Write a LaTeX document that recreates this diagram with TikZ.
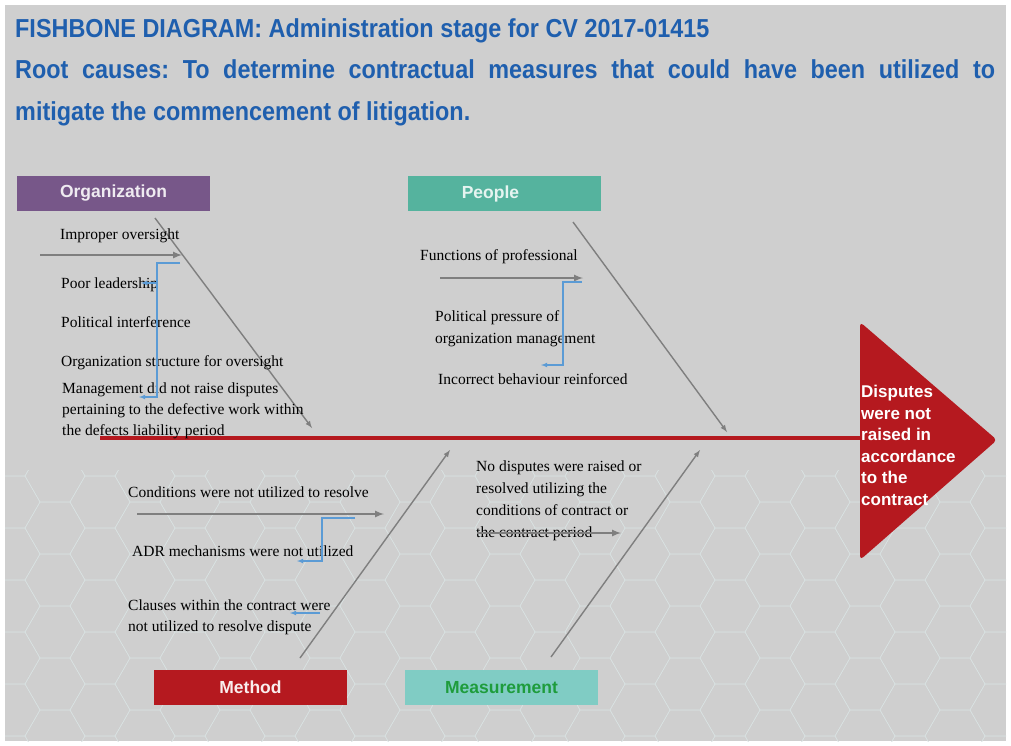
\documentclass[tikz,border=0pt]{standalone}
\usepackage{fontspec}
\setmainfont{Liberation Serif}
\newfontfamily\headfont[FakeStretch=0.9]{Liberation Sans}
\newfontfamily\labelfont{Liberation Sans}
\frenchspacing

\definecolor{bgGray}{HTML}{CFCFCF}
\definecolor{hexLine}{HTML}{D9E2E2}
\definecolor{titleBlue}{HTML}{1F5FAE}
\definecolor{orgPurple}{HTML}{775789}
\definecolor{peopleTeal}{HTML}{55B39E}
\definecolor{methodRed}{HTML}{B5191F}
\definecolor{measTeal}{HTML}{80CCC4}
\definecolor{measGreen}{HTML}{1E9C3C}
\definecolor{boneGray}{HTML}{7F7F7F}
\definecolor{linkBlue}{HTML}{5B9BD5}

\begin{document}
\begin{tikzpicture}[x=1pt,y=-1pt]
    \tikzset{>=latex}
    \tikzset{
      catbox/.style={minimum width=193pt,minimum height=35pt,inner sep=0pt,
        font=\labelfont\bfseries\fontsize{17.5}{20}\selectfont},
      cause/.style={anchor=north west,inner sep=0pt,align=left,
        font=\fontsize{15.5}{21}\selectfont},
      titleline/.style={anchor=base west,inner sep=0pt,text=titleBlue,
        font=\headfont\bfseries\fontsize{26}{30}\selectfont},
      bone/.style={draw=boneGray,line width=1.4pt,->},
      subbone/.style={draw=boneGray,line width=2pt,->},
      link/.style={draw=linkBlue,line width=1.1pt,->}
    }
    % background
    \useasboundingbox (0,0) rectangle (1011,745);
    \fill[white] (0,0) rectangle (1011,745);
    \fill[bgGray] (5,5) rectangle (1006,741);
    \begin{scope}
      \clip (5,470) rectangle (1006,741);
      \foreach \i in {0,...,23} {
        \foreach \j in {0,...,6} {
          \pgfmathsetmacro{\cx}{10+\i*45}
          \pgfmathsetmacro{\cy}{450+\j*52+mod(\i,2)*26}
          \draw[hexLine,line width=0.5pt] (\cx,\cy) +(0:30) -- +(60:30) -- +(120:30)
            -- +(180:30) -- +(240:30) -- +(300:30) -- cycle;
        }
      }
    \end{scope}

    % title
    \node[titleline] (title) at (15,37) {FISHBONE DIAGRAM: Administration stage for CV 2017-01415};
    \node[titleline] (aim) at (15,78) {\makebox[980pt][s]{Root causes: To determine contractual measures that could have been utilized to}};
    \node[titleline] (aim2) at (15,120) {mitigate the commencement of litigation.};

    % spine and head
    \coordinate (spinestart) at (100,438);
    \coordinate (spineend) at (860,438);
    \draw[methodRed,line width=4pt] (spinestart) -- (spineend);
    \fill[methodRed,rounded corners=4pt] (860,322) -- (997,440) -- (860,560) -- cycle;
    \node[anchor=north west,inner sep=0pt,align=left,text=white,
      font=\labelfont\bfseries\fontsize{17}{21.5}\selectfont] (effect) at (861,385)
      {Disputes\\were not\\raised in\\accordance\\to the\\contract};

    % category boxes
    \node[catbox,fill=orgPurple,text=white!88!orgPurple] (org) at (113.5,193.5) {Organization};
    \node[catbox,fill=peopleTeal,text=white!85!peopleTeal] (people) at (504.5,193.5) {\hspace*{-28pt}People};
    \node[catbox,fill=methodRed,text=white!92!methodRed] (method) at (250.5,687.5) {Method};
    \node[catbox,fill=measTeal,text=measGreen] (meas) at (501.5,687.5) {Measurement};

    % main bones
    \coordinate (orgtail) at (155,218);
    \coordinate (orghead) at (312,428);
    \coordinate (peopletail) at (573,222);
    \coordinate (peoplehead) at (727,432);
    \coordinate (methodtail) at (300,658);
    \coordinate (methodhead) at (450,450);
    \coordinate (meastail) at (551,657);
    \coordinate (meashead) at (700,450);
    \draw[bone] (orgtail) -- (orghead);
    \draw[bone] (peopletail) -- (peoplehead);
    \draw[bone] (methodtail) -- (methodhead);
    \draw[bone] (meastail) -- (meashead);

    % organization causes
    \node[cause] (improper) at (60,229) {Improper oversight};
    \node[cause] (poor) at (61,278) {Poor leadership};
    \node[cause] (polint) at (61,316) {Political interference};
    \node[cause] (orgstr) at (61,355) {Organization structure for oversight};
    \node[cause] (mgmt) at (62,383) {Management did not raise disputes\\pertaining to the defective work within\\the defects liability period};
    \coordinate (imptail) at (40,255);
    \coordinate (imphead) at (182,255);
    \draw[subbone] (imptail) -- (imphead);
    \coordinate (orglinka) at (180,263);
    \coordinate (orglinkb) at (157,263);
    \coordinate (orglinkc) at (157,397);
    \coordinate (orglinkd) at (139,397);
    \coordinate (orglinke) at (157,283);
    \coordinate (orglinkf) at (141,283);
    \draw[link] (orglinka) -- (orglinkb) -- (orglinkc) -- (orglinkd);
    \draw[link] (orglinke) -- (orglinkf);

    % people causes
    \node[cause] (functions) at (420,249) {Functions of professional};
    \node[cause,font=\fontsize{15.5}{22}\selectfont] (pressure) at (435,310) {Political pressure of\\organization management};
    \node[cause] (incorrect) at (438,373) {Incorrect behaviour reinforced};
    \coordinate (functail) at (440,278);
    \coordinate (funchead) at (583,278);
    \draw[subbone] (functail) -- (funchead);
    \coordinate (pplinka) at (582,282);
    \coordinate (pplinkb) at (563,282);
    \coordinate (pplinkc) at (563,365);
    \coordinate (pplinkd) at (541,365);
    \draw[link] (pplinka) -- (pplinkb) -- (pplinkc) -- (pplinkd);

    % method causes
    \node[cause] (conditions) at (128,487) {Conditions were not utilized to resolve};
    \node[cause] (adr) at (132,546) {ADR mechanisms were not utilized};
    \node[cause] (clauses) at (128,600) {Clauses within the contract were\\not utilized to resolve dispute};
    \coordinate (condtail) at (137,514);
    \coordinate (condhead) at (384,514);
    \draw[subbone] (condtail) -- (condhead);
    \coordinate (mlinka) at (355,518);
    \coordinate (mlinkb) at (322,518);
    \coordinate (mlinkc) at (322,561);
    \coordinate (mlinkd) at (297,561);
    \coordinate (mlinke) at (320,613);
    \coordinate (mlinkf) at (290,613);
    \draw[link] (mlinka) -- (mlinkb) -- (mlinkc) -- (mlinkd);
    \draw[link] (mlinke) -- (mlinkf);

    % measurement causes
    \node[cause,font=\fontsize{15.5}{22}\selectfont] (nodisp) at (476,461)
      {No disputes were raised or\\resolved utilizing the\\conditions of contract or\\the contract period};
    \coordinate (nodtail) at (477,533);
    \coordinate (nodhead) at (621,533);
    \draw[subbone] (nodtail) -- (nodhead);
\end{tikzpicture}
\end{document}
